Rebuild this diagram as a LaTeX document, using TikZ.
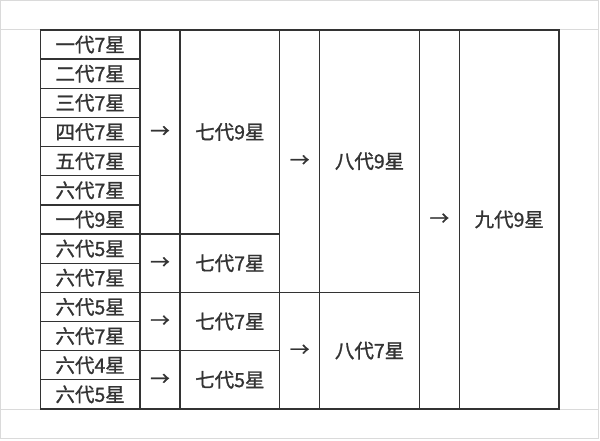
\documentclass[tikz,border=0pt]{standalone}
\usepackage{fontspec}
\setmainfont{Noto Sans CJK SC}[FakeBold=1.2]
\usepackage{tikz}
\usetikzlibrary{calc,positioning}
\definecolor{ink}{HTML}{333333}
\definecolor{frame}{HTML}{DADADA}
\begin{document}
\begin{tikzpicture}[x=1pt,y=-1pt]
\tikzstyle{cell}=[draw=ink, line width=1.3pt, inner sep=0pt, text=ink, font=\fontsize{19.5}{21}\selectfont]
\tikzstyle{wide}=[cell, minimum width=99.7pt]
\tikzstyle{thin}=[cell, minimum width=40pt]
\useasboundingbox (0,0) rectangle (600,441);
\draw[frame, line width=1pt] (0.5,0.5) rectangle (598.5,438.5);
\draw[frame, line width=1pt] (0.5,29.5) -- (598.5,29.5) (0.5,409.5) -- (598.5,409.5);
\foreach \t [count=\i] in {一代7星,二代7星,三代7星,四代7星,五代7星,六代7星,一代9星,六代5星,六代7星,六代5星,六代7星,六代4星,六代5星}
  {\node[wide, minimum height=29.15pt] (s\i) at (90.15,{30+(\i-0.5)*29.15}) {\t};}
\node[thin, minimum height=204.05pt] (a1) at (160,132.03) {→};
\node[thin, minimum height=58.3pt] (a2) at (160,263.2) {→};
\node[thin, minimum height=58.3pt] (a3) at (160,321.5) {→};
\node[thin, minimum height=58.3pt] (a4) at (160,379.8) {→};
\node[wide, minimum height=204.05pt] (q1) at (229.85,132.03) {七代9星};
\node[wide, minimum height=58.3pt] (q2) at (229.85,263.2) {七代7星};
\node[wide, minimum height=58.3pt] (q3) at (229.85,321.5) {七代7星};
\node[wide, minimum height=58.3pt] (q4) at (229.85,379.8) {七代5星};
\node[thin, minimum height=262.35pt] (b1) at (299.7,161.18) {→};
\node[thin, minimum height=116.6pt] (b2) at (299.7,350.65) {→};
\node[wide, minimum height=262.35pt] (e1) at (369.55,161.18) {八代9星};
\node[wide, minimum height=116.6pt] (e2) at (369.55,350.65) {八代7星};
\node[thin, minimum height=378.95pt] (c1) at (439.4,219.48) {→};
\node[wide, minimum height=378.95pt] (n1) at (509.25,219.48) {九代9星};
\end{tikzpicture}
\end{document}
